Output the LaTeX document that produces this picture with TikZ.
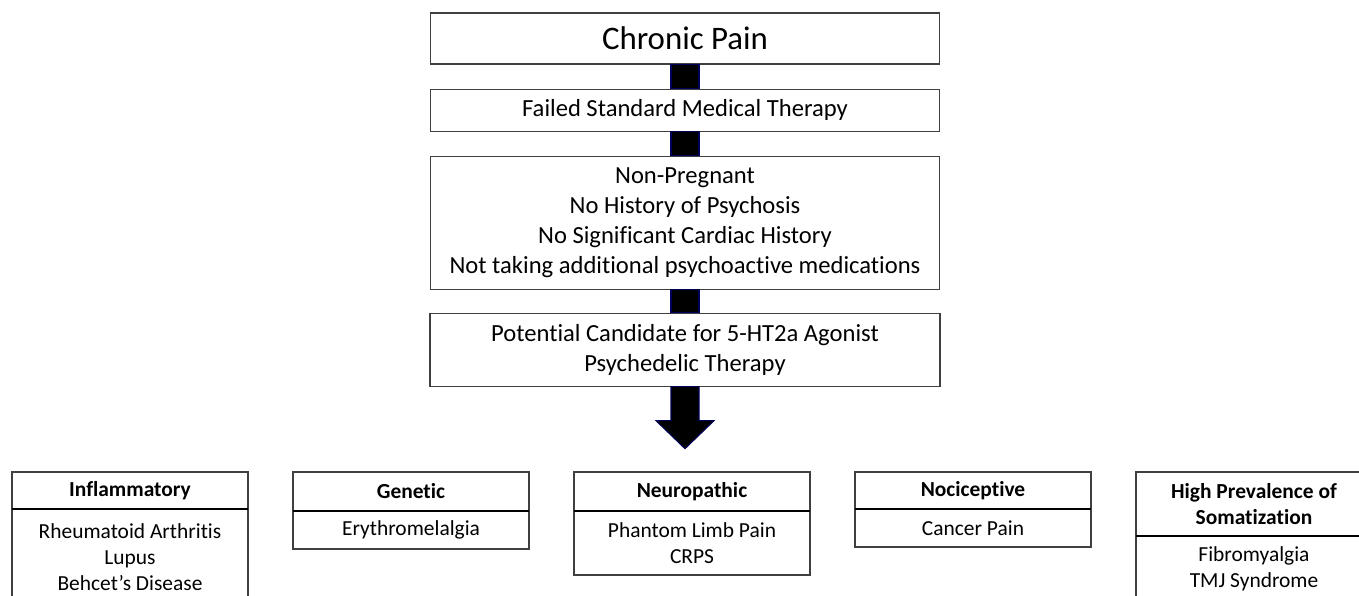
\documentclass[tikz,border=0pt]{standalone}
\usepackage{fontspec}
\setmainfont{Carlito}[Ligatures=NoCommon]
\usetikzlibrary{positioning}

\begin{document}
\begin{tikzpicture}[node distance=0.48cm,
  main node/.style={rectangle,draw=black!75,line width=0.6pt,fill=white,
    minimum width=10.18cm,align=center,inner sep=2pt,
    font=\fontsize{14}{17}\selectfont},
  head node/.style={rectangle,draw=black!75,line width=0.6pt,outer sep=0pt,
    minimum width=4.72cm,minimum height=0.76cm,align=center,inner sep=2pt,
    font=\fontsize{12.2}{14.8}\selectfont\bfseries},
  body node/.style={head node,font=\fontsize{12.2}{14.8}\selectfont},
  bar/.style={fill=black,draw=blue!35!black,line width=0.6pt}]

  \useasboundingbox (0,0) rectangle (27.18,-11.92);
  \clip (0,0) rectangle (27.18,-11.92);

  \node[main node,minimum height=1.02cm,font=\fontsize{18.7}{22}\selectfont] (Chronic) at (13.7,-0.77) {Chronic Pain};
  \node[main node,minimum height=0.84cm] (Failed) [below=of Chronic] {Failed Standard Medical Therapy};
  \node[main node,minimum height=2.66cm] (Criteria) [below=of Failed] {Non-Pregnant\\No History of Psychosis\\No Significant Cardiac History\\Not taking additional psychoactive medications};
  \node[main node,minimum height=1.46cm,minimum width=10.2cm] (Candidate) [below=0.46cm of Criteria] {Potential Candidate for 5-HT2a Agonist\\Psychedelic Therapy};

  % pain categories
  \node[head node,minimum height=0.74cm] (InflHead) at (2.6,-9.81) {Inflammatory};
  \node[body node,minimum height=1.92cm,below=0pt of InflHead] (InflBody) {Rheumatoid Arthritis\\Lupus\\Behcet’s Disease};
  \node[head node,minimum height=0.78cm,right=0.9cm of InflHead.north east,anchor=north west] (GenHead) {Genetic};
  \node[body node,minimum height=0.76cm,below=0pt of GenHead] (GenBody) {Erythromelalgia};
  \node[head node,minimum height=0.78cm,right=0.9cm of GenHead.north east,anchor=north west] (NeuroHead) {Neuropathic};
  \node[body node,minimum height=1.28cm,below=0pt of NeuroHead] (NeuroBody) {Phantom Limb Pain\\CRPS};
  \node[head node,minimum height=0.74cm,right=0.9cm of NeuroHead.north east,anchor=north west] (NociHead) {Nociceptive};
  \node[body node,minimum height=0.76cm,below=0pt of NociHead] (NociBody) {Cancer Pain};
  \node[head node,minimum height=1.28cm,right=0.9cm of NociHead.north east,anchor=north west] (SomaHead) {High Prevalence of\\Somatization};
  \node[body node,minimum height=1.32cm,below=0pt of SomaHead] (SomaBody) {Fibromyalgia\\TMJ Syndrome};

  \draw[line width=0.6pt] (InflHead.south west) -- (InflHead.south east);
  \draw[line width=0.6pt] (GenHead.south west) -- (GenHead.south east);
  \draw[line width=0.6pt] (NeuroHead.south west) -- (NeuroHead.south east);
  \draw[line width=0.6pt] (NociHead.south west) -- (NociHead.south east);
  \draw[line width=0.6pt] (SomaHead.south west) -- (SomaHead.south east);

  % connecting bars
  \draw[bar] ([xshift=-0.28cm]Chronic.south) rectangle ([xshift=0.28cm]Failed.north);
  \draw[bar] ([xshift=-0.28cm]Failed.south) rectangle ([xshift=0.28cm]Criteria.north);
  \draw[bar] ([xshift=-0.28cm]Criteria.south) rectangle ([xshift=0.28cm]Candidate.north);
  \coordinate[below=1.24cm of Candidate.south] (Tip);
  \draw[bar] ([xshift=-0.28cm]Candidate.south) -- ++(0,-0.68) -- ++(-0.3,0) -- (Tip)
    -- ++(0.58,0.56) -- ++(-0.3,0) -- ([xshift=0.28cm]Candidate.south) -- cycle;
\end{tikzpicture}
\end{document}
